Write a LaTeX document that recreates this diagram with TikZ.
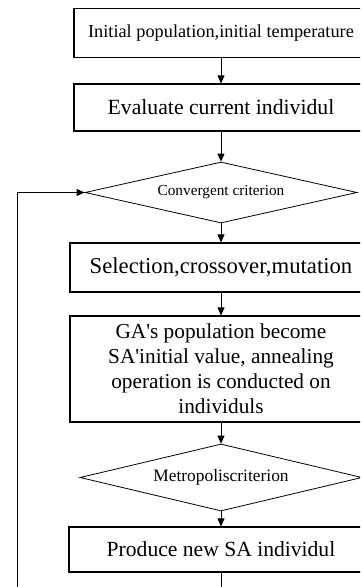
\documentclass[tikz,border=0pt]{standalone}
\usepackage{fontspec}
\setmainfont{Liberation Serif}
\usetikzlibrary{shapes.geometric,arrows.meta}

\tikzset{
  blk/.style={draw,rectangle,line width=1.1pt,inner sep=0pt,align=center},
  decide/.style={draw,diamond,line width=0.8pt,inner sep=0pt},
  flow/.style={line width=0.8pt,-{Triangle[length=8pt,width=7pt]}}
}

\begin{document}
\begin{tikzpicture}[x=1pt,y=1pt,yscale=-1]
\useasboundingbox (0,0) rectangle (360,587);
\clip (0,0) rectangle (360,587);

% Boxes
\node[blk,minimum width=294,minimum height=49,font=\fontsize{18.3}{20}\selectfont] (init) at (221,33)
  {Initial population,initial temperature};
\node[blk,minimum width=294,minimum height=47,font=\fontsize{21.7}{24}\selectfont] (eval) at (221,107.5)
  {Evaluate current individul};
% Diamond
\node[decide,shape aspect=4.4,minimum width=272,minimum height=61,font=\fontsize{15.3}{17}\selectfont] (conv) at (221,192.5)
  {Convergent criterion};
\node[blk,minimum width=302,minimum height=49,font=\fontsize{22.7}{25}\selectfont] (sel) at (221,267.5)
  {Selection,crossover,mutation};
\node[blk,minimum width=302,minimum height=106,font=\fontsize{21.3}{25}\selectfont] (ga) at (221,369)
  {GA\textquotesingle s population become\\
   SA\textquotesingle initial value, annealing\\
   operation is conducted on\\
   individuls};
% Diamond
\node[decide,shape aspect=4.2,minimum width=282,minimum height=67,font=\fontsize{17.4}{19}\selectfont] (metro) at (221,477.5)
  {Metropoliscriterion};
\node[blk,minimum width=304,minimum height=45,font=\fontsize{21.6}{24}\selectfont] (prod) at (221,549.5)
  {Produce new SA individul};

% Connectors
\draw[flow] (init) -- (eval);
\draw[flow] (eval) -- (conv);
\draw[flow] (conv) -- (sel);
\draw[flow] (sel) -- (ga);
\draw[flow] (ga) -- (metro);
\draw[flow] (metro) -- (prod);
% Loop back
\coordinate (bend) at (17,605);
\draw[flow] (prod.south) |- (bend) |- (conv.west);

\end{tikzpicture}
\end{document}
